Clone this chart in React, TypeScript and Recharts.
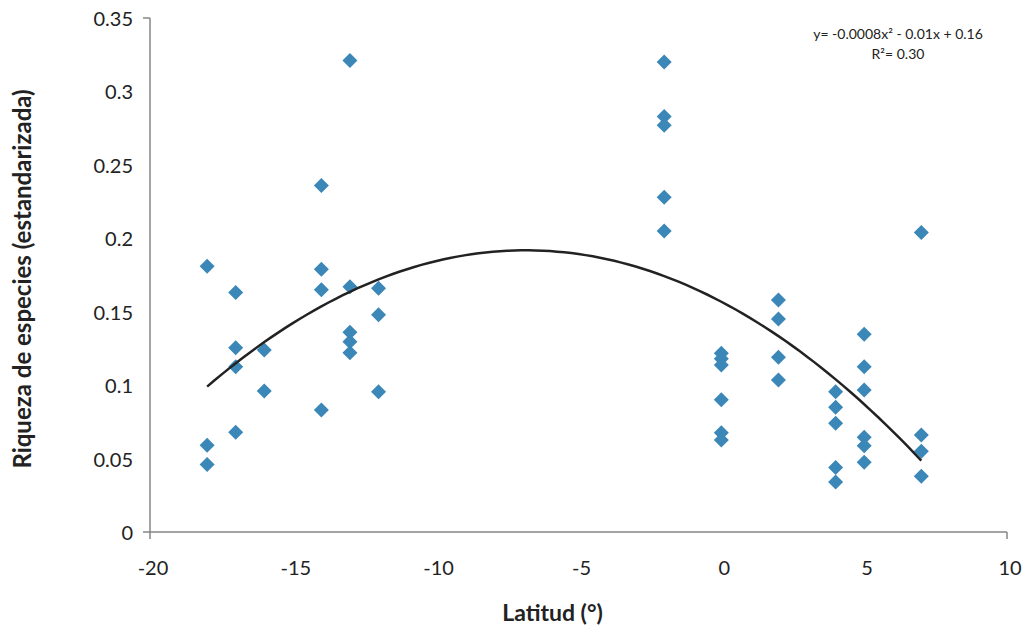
import React from "react";
import { ScatterChart, Scatter, XAxis, YAxis, Label } from "recharts";

// Latitude (°) of each sample
const latitudes = [
  -18, -18, -18,
  -17, -17, -17, -17,
  -16, -16,
  -14, -14, -14, -14,
  -13, -13, -13, -13, -13,
  -12, -12, -12,
  -2, -2, -2, -2, -2,
  0, 0, 0, 0, 0, 0,
  2, 2, 2, 2,
  4, 4, 4, 4, 4,
  5, 5, 5, 5, 5, 5,
  7, 7, 7, 7,
];
// Standardised species richness of each sample
const richness = [
  0.181, 0.059, 0.046,
  0.163, 0.1255, 0.1126, 0.068,
  0.124, 0.096,
  0.236, 0.179, 0.165, 0.083,
  0.321, 0.167, 0.136, 0.1296, 0.122,
  0.166, 0.148, 0.0955,
  0.320, 0.283, 0.277, 0.228, 0.205,
  0.1217, 0.118, 0.1137, 0.090, 0.0676, 0.0626,
  0.158, 0.145, 0.119, 0.1035,
  0.0955, 0.085, 0.074, 0.044, 0.034,
  0.1346, 0.1126, 0.0967, 0.0645, 0.0588, 0.0475,
  0.204, 0.066, 0.055, 0.038,
];
const xTicks = [-20, -15, -10, -5, 0, 5, 10];
const yTicks = [0, 0.05, 0.1, 0.15, 0.2, 0.25, 0.3, 0.35];
const equationText = "y= -0.0008x² - 0.01x + 0.16";
const r2Text = "R²= 0.30";

const points = latitudes.map((x, i) => ({ x, y: richness[i] }));

// Quadratic least-squares trendline computed from the data (as the spreadsheet does)
function fitQuadratic(xs: number[], ys: number[]) {
  const n = xs.length;
  const s = [0, 0, 0, 0, 0];
  const t = [0, 0, 0];
  for (let i = 0; i < n; i++) {
    const x = xs[i];
    const y = ys[i];
    for (let k = 0; k <= 4; k++) s[k] += Math.pow(x, k);
    for (let k = 0; k <= 2; k++) t[k] += Math.pow(x, k) * y;
  }
  const A = [
    [s[0], s[1], s[2], t[0]],
    [s[1], s[2], s[3], t[1]],
    [s[2], s[3], s[4], t[2]],
  ];
  for (let i = 0; i < 3; i++) {
    for (let j = i + 1; j < 3; j++) {
      const f = A[j][i] / A[i][i];
      for (let k = i; k < 4; k++) A[j][k] -= f * A[i][k];
    }
  }
  const c = [0, 0, 0];
  for (let i = 2; i >= 0; i--) {
    let v = A[i][3];
    for (let k = i + 1; k < 3; k++) v -= A[i][k] * c[k];
    c[i] = v / A[i][i];
  }
  return c; // c0 + c1 x + c2 x^2
}
const coef = fitQuadratic(latitudes, richness);
const xMin = Math.min(...latitudes);
const xMax = Math.max(...latitudes);
const trend: { x: number; y: number }[] = [];
for (let k = 0; k <= 100; k++) {
  const x = xMin + ((xMax - xMin) * k) / 100;
  trend.push({ x, y: coef[0] + coef[1] * x + coef[2] * x * x });
}

const FONT = "Lato, 'Open Sans', sans-serif";
const AXIS = "#868686";
const BLUE = "#3a87b8";

const Diamond = (props: any) => {
  const { cx, cy } = props;
  if (cx == null || cy == null) return <g />;
  const r = 7.5;
  return (
    <polygon
      points={`${cx},${cy - r} ${cx + r},${cy} ${cx},${cy + r} ${cx - r},${cy}`}
      fill={BLUE}
    />
  );
};

const XTick = (props: any) => {
  const { x, y, payload } = props;
  const v = payload.value;
  const showLine = v === -20 || v === 10;
  return (
    <g>
      {showLine && <line x1={x} x2={x} y1={y - 35} y2={y - 28} stroke={AXIS} strokeWidth={1.5} />}
      <text x={x + 3} y={y} textAnchor="middle" dominantBaseline="central" fontFamily={FONT} fontSize={20} fill="#222">
        {v}
      </text>
    </g>
  );
};

const YTick = (props: any) => {
  const { x, y, payload } = props;
  const v = payload.value;
  const showLine = v === 0 || v === 0.35;
  return (
    <g>
      {showLine && <line x1={x + 7} x2={x + 14} y1={y} y2={y} stroke={AXIS} strokeWidth={1.5} />}
      <text x={x - 3} y={y} textAnchor="end" dominantBaseline="central" fontFamily={FONT} fontSize={20} fill="#222">
        {v}
      </text>
    </g>
  );
};

export default function App() {
  return (
    <div style={{ position: "absolute", left: 0, top: 0, width: 1022, height: 627, background: "#fff" }}>
      <ScatterChart width={1022} height={627} margin={{ top: 18, right: 15, bottom: 0, left: 0 }}>
        <XAxis
          type="number"
          dataKey="x"
          domain={[-20, 10]}
          ticks={xTicks}
          allowDataOverflow
          height={95}
          axisLine={{ stroke: AXIS, strokeWidth: 1.5 }}
          tickLine={false}
          tickSize={0}
          tickMargin={35}
          tick={<XTick />}
        >
          <Label
            value="Latitud (°)"
            position="insideBottom"
            offset={6}
            dx={-26}
            style={{ fontFamily: FONT, fontSize: 23, fontWeight: 700, fill: "#222" }}
          />
        </XAxis>
        <YAxis
          type="number"
          dataKey="y"
          domain={[0, 0.35]}
          ticks={yTicks}
          allowDataOverflow
          width={150}
          axisLine={{ stroke: AXIS, strokeWidth: 1.5 }}
          tickLine={false}
          tickSize={0}
          tickMargin={14}
          tick={<YTick />}
        >
          <Label
            value="Riqueza de especies (estandarizada)"
            angle={-90}
            position="insideLeft"
            offset={22}
            dy={4}
            style={{ fontFamily: FONT, fontSize: 24, fontWeight: 700, fill: "#222", textAnchor: "middle" }}
          />
        </YAxis>
        <Scatter data={points} shape={<Diamond />} isAnimationActive={false} />
        <Scatter
          data={trend}
          line={{ stroke: "#222", strokeWidth: 2.5 }}
          shape={() => <g />}
          isAnimationActive={false}
        />
      </ScatterChart>
      <div
        style={{
          position: "absolute",
          left: 798,
          top: 24,
          width: 200,
          textAlign: "center",
          fontFamily: FONT,
          fontSize: 14,
          lineHeight: "20px",
          color: "#222",
        }}
      >
        <div>{equationText}</div>
        <div>{r2Text}</div>
      </div>
    </div>
  );
}
